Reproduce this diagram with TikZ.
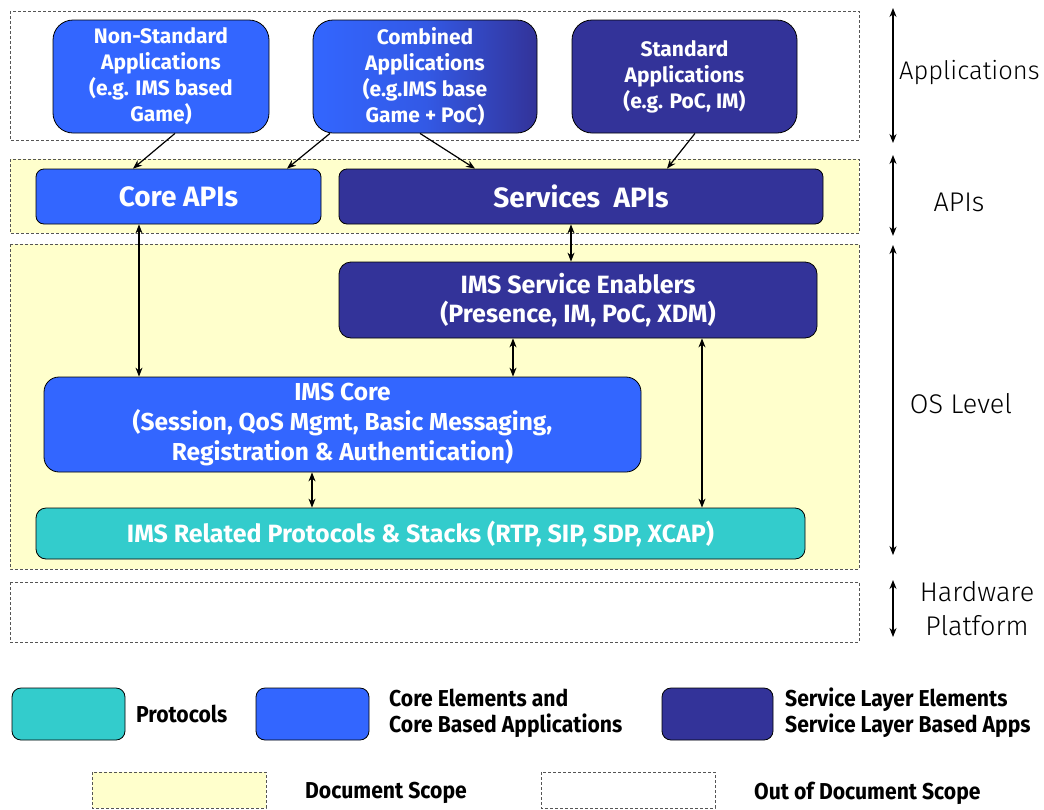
\documentclass[tikz,border=0pt]{standalone}
\usepackage{fontspec}
\setmainfont{Fira Sans}
\newfontfamily\legfont[FakeStretch=0.92]{Fira Sans}
\newfontfamily\lightfont{Fira Sans Light}
\usetikzlibrary{arrows.meta,shadings}
\definecolor{cprot}{HTML}{33CCCC}
\definecolor{ccore}{HTML}{3366FF}
\definecolor{cserv}{HTML}{333399}
\definecolor{cscope}{HTML}{FFFFCC}
\definecolor{cdash}{HTML}{555555}
\tikzset{
  blk/.style={draw=black, line width=0.8pt, text=white, font=\bfseries, align=center, inner sep=0pt},
  appbox/.style={blk, rounded corners=20pt, font=\fontsize{21}{26}\selectfont\bfseries},
  scopebox/.style={draw=cdash, line width=0.8pt, dash pattern=on 3pt off 2pt},
  arr/.style={line width=1.2pt, -{Stealth[length=9pt,width=7pt]}},
  darr/.style={line width=1.2pt, {Stealth[length=9pt,width=7pt]}-{Stealth[length=9pt,width=7pt]}},
  lvl/.style={font=\fontsize{27}{34}\selectfont\lightfont, text=black, align=center},
  leg/.style={font=\fontsize{23}{26}\selectfont\legfont\bfseries, text=black, align=left, anchor=west, inner sep=0pt},
}
\begin{document}
\begin{tikzpicture}[x=1pt,y=-1pt]
\useasboundingbox[fill=white] (0,0) rectangle (1044,809);
% scope boxes
\draw[scopebox, fill=white] (10,11) rectangle (859,140);
\draw[scopebox, fill=cscope] (10,159) rectangle (859,233);
\draw[scopebox, fill=cscope] (10,244) rectangle (859,569);
\draw[scopebox, fill=white] (10,582) rectangle (859,642);
% applications
\node[appbox, fill=ccore, minimum width=216pt, minimum height=113pt] (ns) at (161,76.5)
  {Non-Standard\\Applications\\(e.g. IMS based\\Game)};
\node[appbox, left color=ccore, right color=cserv, middle color=ccore!75!cserv, minimum width=224pt, minimum height=113pt] (comb) at (425,76.5)
  {Combined\\Applications\\(e.g.IMS base\\Game + PoC)};
\node[appbox, fill=cserv, minimum width=225pt, minimum height=113pt] (std) at (684.5,76.5)
  {Standard\\Applications\\(e.g. PoC, IM)};
% APIs
\node[blk, fill=ccore, rounded corners=8pt, minimum width=285pt, minimum height=55pt, font=\fontsize{28}{32}\selectfont\bfseries] (capi) at (178.5,196.5) {Core APIs};
\node[blk, fill=cserv, rounded corners=8pt, minimum width=484pt, minimum height=55pt, font=\fontsize{28}{32}\selectfont\bfseries] (sapi) at (581,196.5) {Services\ \ APIs};
% OS level
\node[blk, fill=cserv, rounded corners=12pt, minimum width=478pt, minimum height=76pt, font=\fontsize{25}{29}\selectfont\bfseries] (ise) at (578,300)
  {IMS Service Enablers\\(Presence, IM, PoC, XDM)};
\node[blk, fill=ccore, rounded corners=15pt, minimum width=597pt, minimum height=95pt, font=\fontsize{24.5}{30}\selectfont\bfseries] (core) at (342.5,424.5)
  {IMS Core\\(Session, QoS Mgmt, Basic Messaging,\\Registration \& Authentication)};
\node[blk, fill=cprot, rounded corners=10pt, minimum width=769pt, minimum height=51pt, font=\fontsize{25}{29}\selectfont\bfseries] (prot) at (420.5,533.5)
  {IMS Related Protocols \& Stacks (RTP, SIP, SDP, XCAP)};
% arrows from applications
\draw[arr] ([xshift=14pt]ns.south) -- ([xshift=-45.5pt]capi.north);
\draw[arr] ([xshift=-95pt]comb.south) -- ([xshift=108.5pt]capi.north);
\draw[arr] ([xshift=-5pt]comb.south) -- ([xshift=-106pt]sapi.north);
\draw[arr] ([xshift=10.5pt]std.south) -- ([xshift=86pt]sapi.north);
% vertical double arrows
\coordinate (x1) at (139,0);
\coordinate (x2) at (571,0);
\coordinate (x3) at (513,0);
\coordinate (x4) at (702,0);
\coordinate (x5) at (312,0);
\draw[darr] (capi.south -| x1) -- (core.north -| x1);
\draw[darr] (sapi.south -| x2) -- (ise.north -| x2);
\draw[darr] (ise.south -| x3) -- (core.north -| x3);
\draw[darr] (ise.south -| x4) -- (prot.north -| x4);
\draw[darr] (core.south -| x5) -- (prot.north -| x5);
% level arrows and labels
\coordinate (la1) at (893,8);   \coordinate (la2) at (893,143);
\coordinate (lb1) at (893,155); \coordinate (lb2) at (893,236);
\coordinate (lc1) at (893,245); \coordinate (lc2) at (893,555);
\coordinate (ld1) at (893,580); \coordinate (ld2) at (893,637);
\draw[darr] (la1) -- (la2);
\draw[darr] (lb1) -- (lb2);
\draw[darr] (lc1) -- (lc2);
\draw[darr] (ld1) -- (ld2);
\node[lvl, anchor=west, inner sep=0pt, font=\fontsize{25.5}{34}\selectfont\lightfont] (lapp) at (899,73) {Applications};
\node[lvl] (lapi) at (959,202) {APIs};
\node[lvl] (los) at (961,404) {OS Level};
\node[lvl] (lhw) at (977,609) {Hardware\\Platform};
% legend
\node[blk, fill=cprot, rounded corners=9pt, minimum width=113pt, minimum height=52pt] (kprot) at (68.5,714) {};
\node[leg] (tprot) at (136,714) {Protocols};
\node[blk, fill=ccore, rounded corners=9pt, minimum width=113pt, minimum height=52pt] (kcore) at (312.5,714) {};
\node[leg] (tcore) at (389,713) {Core Elements and\\Core Based Applications};
\node[blk, fill=cserv, rounded corners=9pt, minimum width=111pt, minimum height=52pt] (kserv) at (717.5,714) {};
\node[leg] (tserv) at (785,713) {Service Layer Elements\\Service Layer Based Apps};
\draw[scopebox, fill=cscope] (92,772) rectangle (266,808);
\node[leg] (tdoc) at (305,793) {Document Scope};
\draw[scopebox, fill=white] (541,772) rectangle (715,808);
\node[leg] (tout) at (754,793) {Out of Document Scope};
\end{tikzpicture}
\end{document}
